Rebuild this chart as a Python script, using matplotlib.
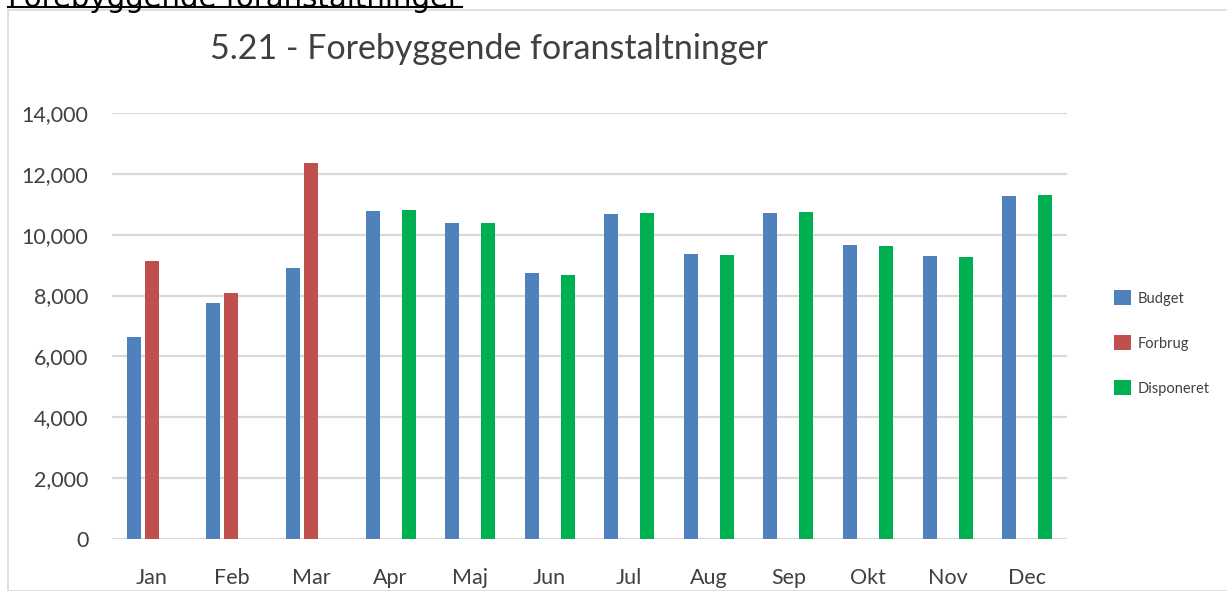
import numpy as np
import matplotlib.pyplot as plt
from matplotlib.lines import Line2D
from matplotlib.patches import Rectangle
from matplotlib.ticker import FuncFormatter

plt.rcParams['font.family'] = ['Lato', 'DejaVu Sans']

months = ['Jan', 'Feb', 'Mar', 'Apr', 'Maj', 'Jun', 'Jul', 'Aug', 'Sep', 'Okt', 'Nov', 'Dec']
budget = [6640, 7750, 8900, 10770, 10380, 8740, 10680, 9360, 10710, 9660, 9300, 11270]
forbrug = [9130, 8080, 12350, None, None, None, None, None, None, None, None, None]
disponeret = [None, None, None, 10810, 10380, 8670, 10710, 9330, 10740, 9630, 9270, 11300]

BLUE = '#4F81BD'
RED = '#C0504D'
GREEN = '#00B050'
GRID = '#d9d9d9'
TXT = '#404040'

fig = plt.figure(figsize=(12.27, 5.91), dpi=100)
W, H = 1227, 591

# outer chart frame and the clipped heading above it
fig.add_artist(Rectangle((8 / W, 0), 1.2, 1 - 10 / H, transform=fig.transFigure,
                         fill=False, edgecolor=GRID, linewidth=1.2))
fig.text(8 / W, 1 - 7 / H, 'Forebyggende foranstaltninger', fontsize=21,
         color='black', ha='left', va='baseline', family=['DejaVu Sans'])
fig.add_artist(Line2D([8 / W, 462 / W], [1 - 7 / H, 1 - 7 / H], transform=fig.transFigure,
                      color='black', linewidth=1.5))

ax = fig.add_axes([112 / W, 1 - 539 / H, (1067 - 112) / W, (539 - 113) / H])

x = np.arange(len(months))
slot = 0.226
bw = 0.176


def vals(series):
    return [np.nan if v is None else v for v in series]


ax.bar(x - slot, vals(budget), bw, color=BLUE, label='Budget', zorder=3)
ax.bar(x, vals(forbrug), bw, color=RED, label='Forbrug', zorder=3)
ax.bar(x + slot, vals(disponeret), bw, color=GREEN, label='Disponeret', zorder=3)

ax.set_xlim(-0.5, len(months) - 0.5)
ax.set_ylim(0, 14000)
ax.set_yticks(range(0, 14001, 2000))
ax.yaxis.set_major_formatter(FuncFormatter(lambda v, p: f'{int(v):,}'))
ax.set_xticks(x)
ax.set_xticklabels(months)

for s in ax.spines.values():
    s.set_visible(False)
ax.grid(axis='y', color=GRID, linewidth=1.6, zorder=0)
ax.tick_params(axis='both', length=0, labelsize=15.5, colors=TXT)
ax.tick_params(axis='y', pad=17)
ax.tick_params(axis='x', pad=21)

fig.text(489 / W, 1 - 49 / H, '5.21 - Forebyggende foranstaltninger', fontsize=24.5,
         color=TXT, ha='center', va='center')

leg = fig.legend(loc='center left', bbox_to_anchor=(1108 / W, 1 - 343 / H),
                 frameon=False, fontsize=10.5, handlelength=1.15, handleheight=1.15,
                 labelspacing=2.05, handletextpad=0.45, borderaxespad=0)
for t in leg.get_texts():
    t.set_color(TXT)

fig.savefig('out.png', dpi=100)
